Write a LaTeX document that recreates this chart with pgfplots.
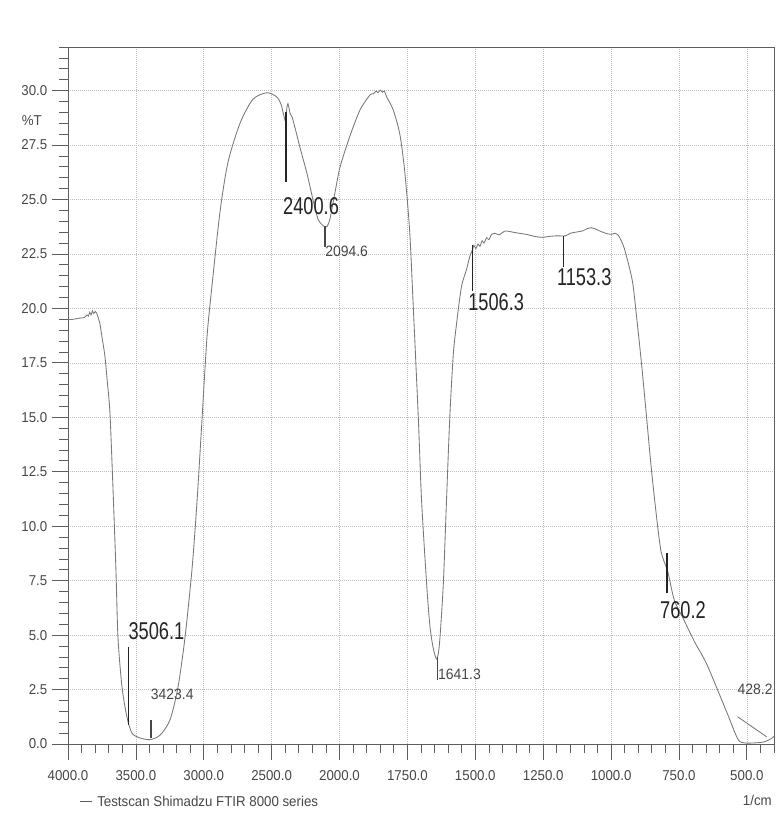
\documentclass[border=0pt]{standalone}
\usepackage{fontspec}
\setmainfont{Liberation Sans}[FakeStretch=0.93]
\newfontfamily\hand{Liberation Sans}[FakeStretch=0.75]
\usepackage{pgfplots}
\usepackage{pgfplotstable}
\pgfplotsset{compat=1.18}
\definecolor{axisgray}{HTML}{5E5E5E}
\definecolor{tracegray}{HTML}{787878}
\definecolor{ink}{HTML}{242424}
\definecolor{printgray}{HTML}{474747}

% FTIR trace, wavenumber (1/cm) vs %T
\pgfplotstableread{
wn T
4000 19.48
3960 19.50
3920 19.55
3880 19.58
3860 19.70
3850 19.64
3840 19.82
3830 19.70
3820 19.88
3810 19.76
3800 19.86
3790 19.80
3780 19.62
3765 19.3
3750 18.7
3728 17.8
3710 16.6
3691 15.2
3669 11.8
3647 8.0
3632 4.9
3602 2.6
3566 1.24
3529 0.5
3470 0.28
3396 0.2
3323 0.4
3249 1.1
3190 2.6
3138 4.9
3087 8.0
3050 11.1
3013 14.9
2976 18.7
2940 21.0
2881 24.4
2822 26.7
2733 28.5
2638 29.6
2535 29.9
2461 29.7
2430 29.35
2412 28.9
2398 28.6
2388 29.2
2380 29.4
2372 29.2
2362 28.9
2350 28.8
2320 28.1
2292 27.4
2240 26.2
2196 25.0
2159 24.1
2130 23.85
2110 23.75
2093 23.75
2071 24.1
2034 25.3
1998 26.5
1962 27.9
1925 29.1
1888 29.8
1875 29.85
1865 29.98
1858 29.9
1850 30.02
1842 29.92
1835 29.98
1826 29.7
1802 29.1
1778 28.0
1760 26.3
1742 23.6
1730 20.5
1710 15.0
1698 11.2
1679 7.3
1667 5.4
1655 4.4
1642 3.9
1632 4.6
1618 7.3
1606 11.2
1594 15.0
1581 17.9
1569 19.3
1551 21.0
1532 21.8
1520 22.4
1510 22.7
1505 22.9
1498 22.75
1490 22.95
1483 22.85
1475 23.1
1468 23.0
1458 23.25
1450 23.15
1440 23.4
1428 23.45
1412 23.38
1390 23.55
1362 23.5
1340 23.45
1313 23.4
1280 23.3
1252 23.26
1230 23.3
1203 23.33
1168 23.33
1150 23.45
1129 23.5
1104 23.56
1090 23.65
1073 23.7
1058 23.65
1043 23.56
1020 23.45
1000 23.4
985 23.45
975 23.38
962 23.1
951 22.74
935 22.0
920 21.14
905 19.5
889 17.6
870 15.1
853 12.8
835 10.7
816 8.84
791 7.9
767 6.6
730 5.65
693 4.7
650 3.73
607 2.46
570 1.34
533 0.22
509 0.05
472 0.05
435 0.1
410 0.25
400 0.35
}\spectrum

\begin{document}
\begin{tikzpicture}
\path[use as bounding box, fill=white] (-47.6pt,-58.1pt) rectangle (499.8pt,520.8pt);
\begin{axis}[at={(0pt,0pt)}, anchor=south west, scale only axis,
  width=494.2pt, height=487.9pt,
  % scale below 2000 1/cm is twice as wide
  x coord trafo/.code={\pgfmathparse{ifthenelse(#1>=2000,(4000-#1)/500,4+(2000-#1)/250)}},
  x coord inv trafo/.code={\pgfmathparse{ifthenelse(#1<=4,4000-500*#1,2000-250*(#1-4))}},
  xmin=4000, xmax=400, ymin=0, ymax=32,
  xtick={4000,3500,3000,2500,2000,1750,1500,1250,1000,750,500},
  xticklabels={4000.0,3500.0,3000.0,2500.0,2000.0,1750.0,1500.0,1250.0,1000.0,750.0,500.0},
  minor xtick={3900,3800,3700,3600,3400,3300,3200,3100,2900,2800,2700,2600,2400,2300,2200,2100,
    1950,1900,1850,1800,1700,1650,1600,1550,1450,1400,1350,1300,1200,1150,1100,1050,
    950,900,850,800,700,650,600,550,450,400},
  ytick={0,2.5,5,7.5,10,12.5,15,17.5,20,22.5,25,27.5,30},
  yticklabels={0.0,2.5,5.0,7.5,10.0,12.5,15.0,17.5,20.0,22.5,25.0,27.5,30.0},
  minor ytick={0.5,1,...,32},
  xtick pos=lower, ytick pos=left,
  tick align=outside, major tick length=11pt, minor tick length=6pt,
  grid=major, major grid style={densely dotted, gray!50, line width=0.4pt},
  axis line style={axisgray, line width=0.6pt},
  every tick/.style={axisgray, line width=0.5pt},
  ticklabel style={font=\fontsize{10}{12}\selectfont, text=printgray},
  xticklabel style={yshift=-4pt},
]
\addplot[tracegray, line width=0.6pt, smooth, tension=0.45] table[x=wn, y=T] {\spectrum};

% peak marks
\addplot[ink, line width=1pt] coordinates {(3556,4.46) (3556,0.87)};
\addplot[printgray, line width=1.3pt] coordinates {(3391,1.1) (3391,0.28)};
\addplot[ink, line width=1pt] coordinates {(2395,29.0) (2395,25.8)};
\addplot[printgray, line width=0.8pt] coordinates {(2107,23.76) (2107,22.84)};
\addplot[printgray, line width=0.8pt] coordinates {(1638,4.0) (1638,2.94)};
\addplot[ink, line width=1pt] coordinates {(1510,22.9) (1510,20.8)};
\addplot[ink, line width=1pt] coordinates {(1176,23.33) (1176,21.9)};
\addplot[ink, line width=1pt] coordinates {(794,8.76) (794,6.92)};
\addplot[tracegray, line width=0.6pt] coordinates {(534,1.25) (427,0.33)};

\tikzset{hw/.style={anchor=west, inner sep=0pt, text=ink, font=\hand\fontsize{17}{17}\selectfont},
  pr/.style={anchor=west, inner sep=0pt, text=printgray, font=\fontsize{10.5}{12}\selectfont}}
\node[hw] at (axis cs:3556,5.2) {3506.1};
\node[pr] at (axis cs:3391,2.3) {3423.4};
\node[hw] at (axis cs:2417,24.7) {2400.6};
\node[pr] at (axis cs:2107,22.6) {2094.6};
\node[pr] at (axis cs:1638,3.2) {1641.3};
\node[hw] at (axis cs:1527,20.3) {1506.3};
\node[hw] at (axis cs:1200,21.45) {1153.3};
\node[hw] at (axis cs:820,6.15) {760.2};
\node[pr, anchor=east] at (axis cs:404,2.53) {428.2};
\end{axis}
\node[anchor=east, inner sep=0pt, text=printgray, font=\fontsize{10}{12}\selectfont] at (-18.2pt,436.1pt) {\%T};
\node[anchor=east, inner sep=0pt, text=printgray, font=\fontsize{10}{12}\selectfont] at (492.8pt,-39.2pt) {1/cm};
\draw[axisgray, line width=0.5pt] (8.4pt,-39.9pt) -- (16.8pt,-39.9pt);
\node[anchor=west, inner sep=0pt, text=printgray, font=\fontsize{10}{12}\selectfont] at (20.3pt,-39.9pt) {Testscan Shimadzu FTIR 8000 series};
\end{tikzpicture}
\end{document}
